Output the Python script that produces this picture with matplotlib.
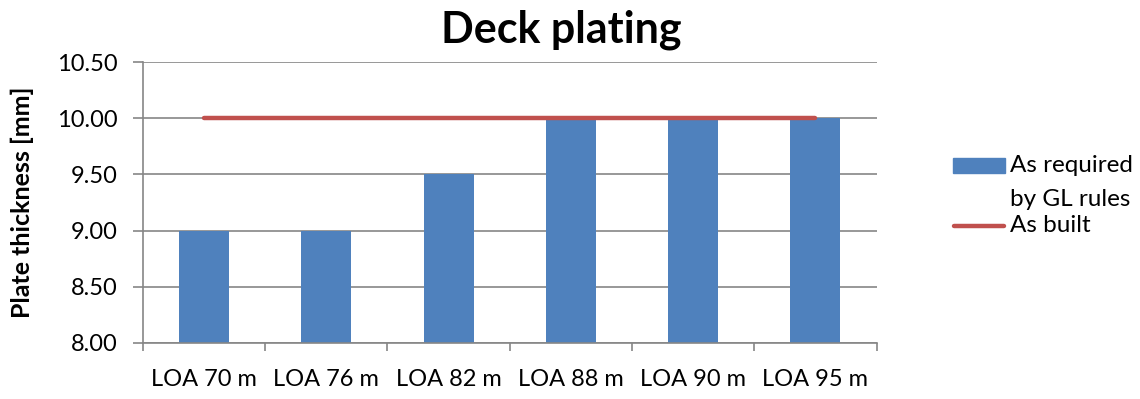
import numpy as np
import matplotlib.pyplot as plt
from matplotlib.patches import Rectangle
from matplotlib.lines import Line2D

plt.rcParams['font.family'] = ['Lato', 'DejaVu Sans']

categories = ['LOA 70 m', 'LOA 76 m', 'LOA 82 m', 'LOA 88 m', 'LOA 90 m', 'LOA 95 m']
required = [9.0, 9.0, 9.5, 10.0, 10.0, 10.0]
built = [10.0, 10.0, 10.0, 10.0, 10.0, 10.0]

BLUE = '#4F81BD'
RED = '#C0504D'
GREY = '#868686'

fig = plt.figure(figsize=(11.4, 3.99), dpi=100)
ax = fig.add_axes([0.1254, 0.1404, 0.6435, 0.7042])

x = np.arange(len(categories))
ax.bar(x, required, width=0.41, color=BLUE, zorder=2)
ax.plot(x, built, color=RED, lw=3.2, solid_capstyle='round', zorder=3)

ax.set_xlim(-0.5, len(categories) - 0.5)
ax.set_ylim(8.0, 10.5)
ax.set_yticks(np.arange(8.0, 10.51, 0.5))
ax.yaxis.set_major_formatter(plt.FuncFormatter(lambda v, p: f'{v:.2f}'))

# category labels sit between the boundary ticks
ax.set_xticks(np.arange(-0.5, len(categories), 1.0))
ax.set_xticklabels([])
ax.set_xticks(x, minor=True)
ax.set_xticklabels(categories, minor=True, fontsize=17)
ax.tick_params(axis='x', which='minor', length=0, pad=19)
ax.tick_params(axis='x', which='major', length=6, width=1.2, color=GREY)
ax.tick_params(axis='y', length=7.5, width=1.2, color=GREY, labelsize=17, pad=11)

ax.grid(axis='y', color=GREY, lw=1.2, zorder=0)
for s in ['top', 'right']:
    ax.spines[s].set_visible(False)
for s in ['left', 'bottom']:
    ax.spines[s].set_color(GREY)
    ax.spines[s].set_linewidth(1.2)

ax.set_ylabel('Plate thickness [mm]', fontsize=18, fontweight='bold', labelpad=16)
fig.text(0.492, 0.925, 'Deck plating', fontsize=31, fontweight='bold', ha='center', va='center')

# legend drawn by hand so the swatch lines up with the first text line
W, H = 1140, 399
fig.patches.append(Rectangle((953 / W, 1 - 173 / H), 52 / W, 15 / H,
                             transform=fig.transFigure, color=BLUE))
fig.lines.append(Line2D([954 / W, 1004 / W], [1 - 226 / H, 1 - 226 / H],
                        transform=fig.transFigure, color=RED, lw=3.2,
                        solid_capstyle='round'))
fig.text(1010 / W, 1 - 166 / H, 'As required', fontsize=17.5, va='center')
fig.text(1010 / W, 1 - 199 / H, 'by GL rules', fontsize=17.5, va='center')
fig.text(1010 / W, 1 - 226 / H, 'As built', fontsize=17.5, va='center')

fig.savefig('out.png', dpi=100)
